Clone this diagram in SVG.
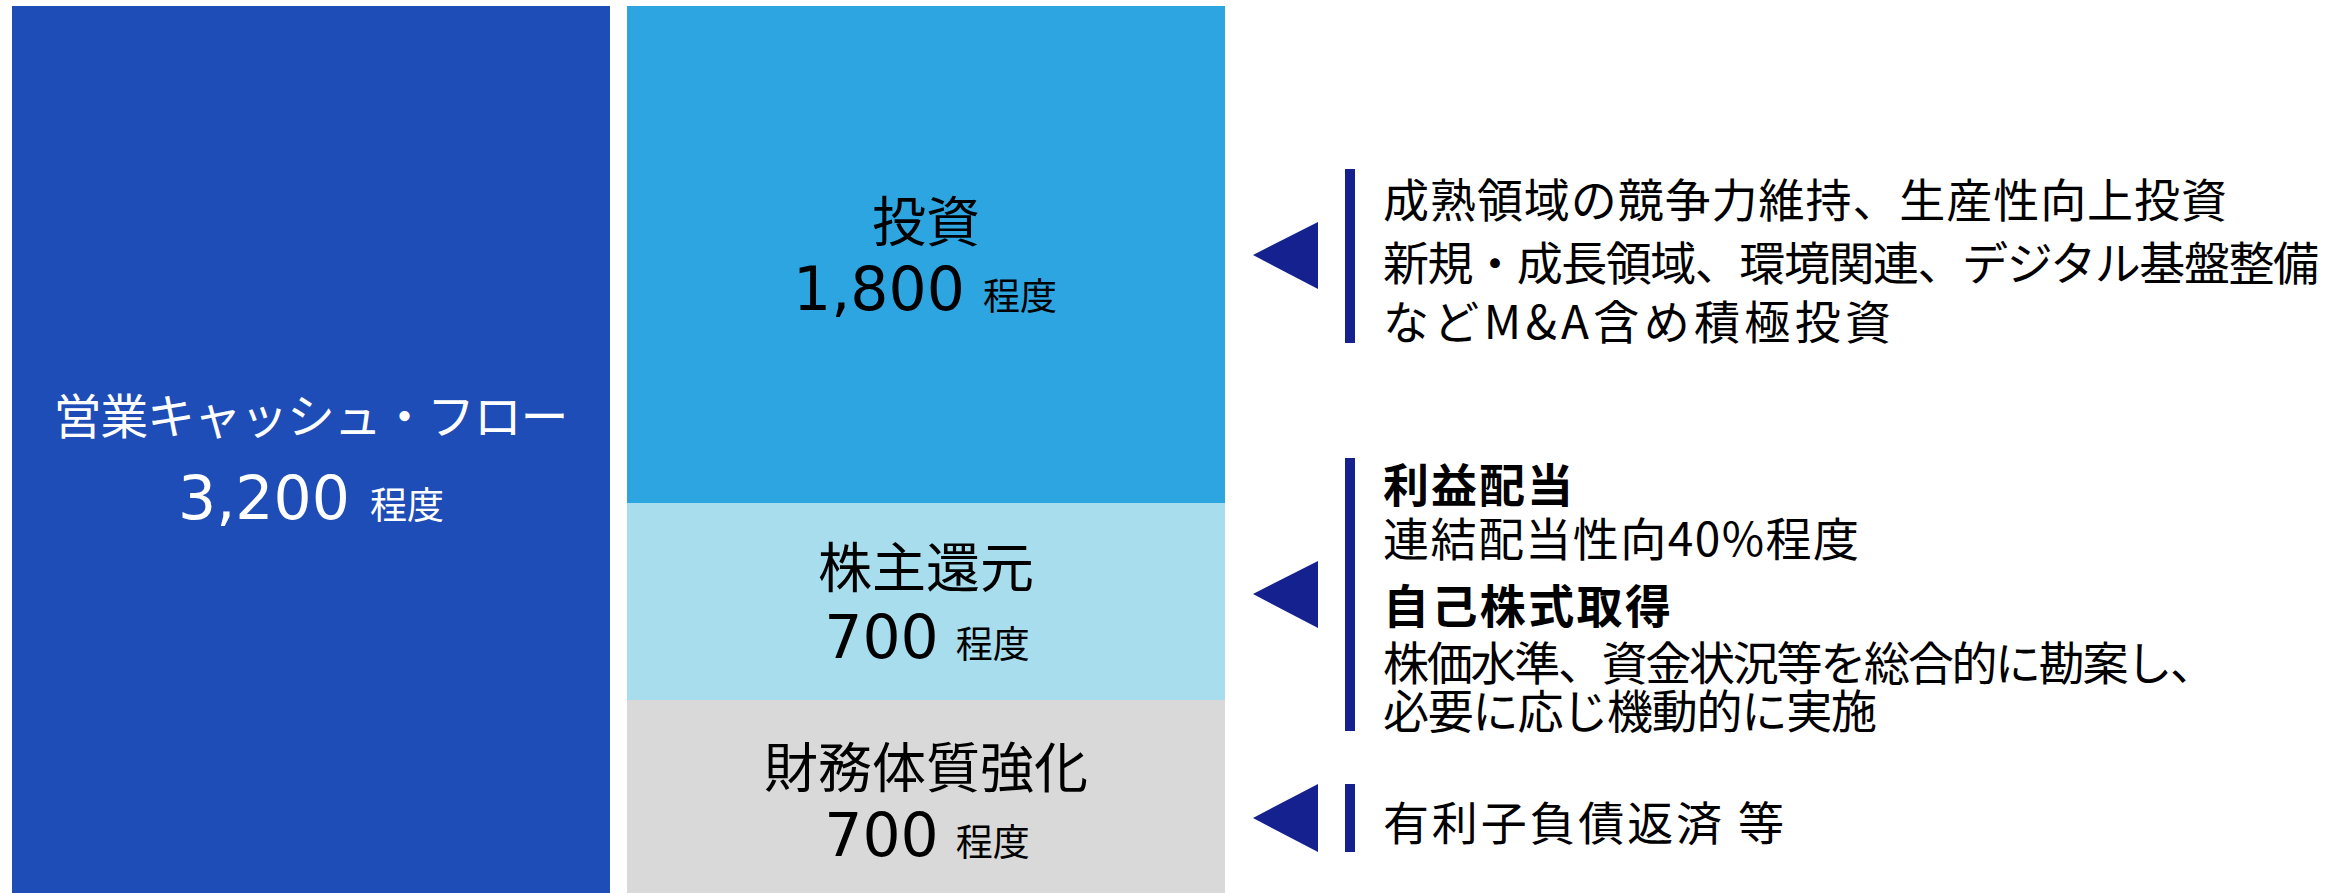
<svg xmlns="http://www.w3.org/2000/svg" width="2346" height="893" viewBox="0 0 2346 893">
  <style>
    .jp { font-family: "Noto Sans CJK JP", "Noto Sans CJK SC", sans-serif; }
    .num { font-family: "DejaVu Sans", "Noto Sans", sans-serif; font-size: 60px; }
    .title { font-size: 54px; fill: #000; }
    .unit { font-family: "Noto Sans CJK JP", sans-serif; font-size: 37px; }
    .dark { fill: #000; }
    .white { fill: #ffffff; }
    .body { font-size: 46px; fill: #000; }
    .bold { font-weight: 700; }
    .navy { fill: #14218F; }
  </style>
  <rect width="2346" height="893" fill="#ffffff"/>

  <g id="node-operating-cf">
    <rect x="12" y="6" width="598" height="887" fill="#1E4DB7"/>
    <text class="jp white" x="311" y="434" font-size="48" text-anchor="middle" textLength="515">営業キャッシュ・フロー</text>
    <text class="white" x="311" y="519" text-anchor="middle"><tspan class="num">3,200</tspan><tspan class="unit" font-size="42" dx="20">程度</tspan></text>
  </g>

  <g id="node-investment">
    <rect x="627" y="6" width="598" height="497" fill="#2CA5E0"/>
    <text class="jp title" x="926" y="242" text-anchor="middle">投資</text>
    <text class="dark" x="925" y="310" text-anchor="middle"><tspan class="num">1,800</tspan><tspan class="unit" dx="18">程度</tspan></text>
  </g>

  <g id="node-shareholder-return">
    <rect x="627" y="503" width="598" height="197" fill="#A8DDED"/>
    <text class="jp title" x="926" y="588" text-anchor="middle">株主還元</text>
    <text class="dark" x="927" y="658" text-anchor="middle"><tspan class="num">700</tspan><tspan class="unit" dx="17">程度</tspan></text>
  </g>

  <g id="node-financial">
    <rect x="627" y="700" width="598" height="193" fill="#D9D9D9"/>
    <text class="jp title" x="926" y="788" text-anchor="middle">財務体質強化</text>
    <text class="dark" x="927" y="856" text-anchor="middle"><tspan class="num">700</tspan><tspan class="unit" dx="17">程度</tspan></text>
  </g>

  <g id="connectors">
    <polygon class="navy" points="1253,255 1318,222 1318,289"/>
    <polygon class="navy" points="1253,594 1318,561 1318,628"/>
    <polygon class="navy" points="1253,818 1318,784 1318,852"/>
  </g>

  <g id="detail-investment">
    <rect class="navy" x="1345" y="169" width="10" height="174"/>
    <text class="jp body" x="1383" y="217" textLength="844">成熟領域の競争力維持、生産性向上投資</text>
    <text class="jp body" x="1383" y="280" textLength="936">新規・成長領域、環境関連、デジタル基盤整備</text>
    <text class="jp body" x="1383" y="339" textLength="508">などM&amp;A含め積極投資</text>
  </g>

  <g id="detail-shareholder-return">
    <rect class="navy" x="1345" y="458" width="10" height="273"/>
    <text class="jp body bold" x="1383" y="502" textLength="190">利益配当</text>
    <text class="jp body" x="1383" y="556" textLength="476">連結配当性向40%程度</text>
    <text class="jp body bold" x="1383" y="623" textLength="288">自己株式取得</text>
    <text class="jp body" x="1383" y="680" textLength="833">株価水準、資金状況等を総合的に勘案し、</text>
    <text class="jp body" x="1383" y="728" textLength="494">必要に応じ機動的に実施</text>
  </g>

  <g id="detail-financial">
    <rect class="navy" x="1345" y="784" width="10" height="68"/>
    <text class="jp body" x="1383" y="840" font-size="48" textLength="401">有利子負債返済 等</text>
  </g>
</svg>
